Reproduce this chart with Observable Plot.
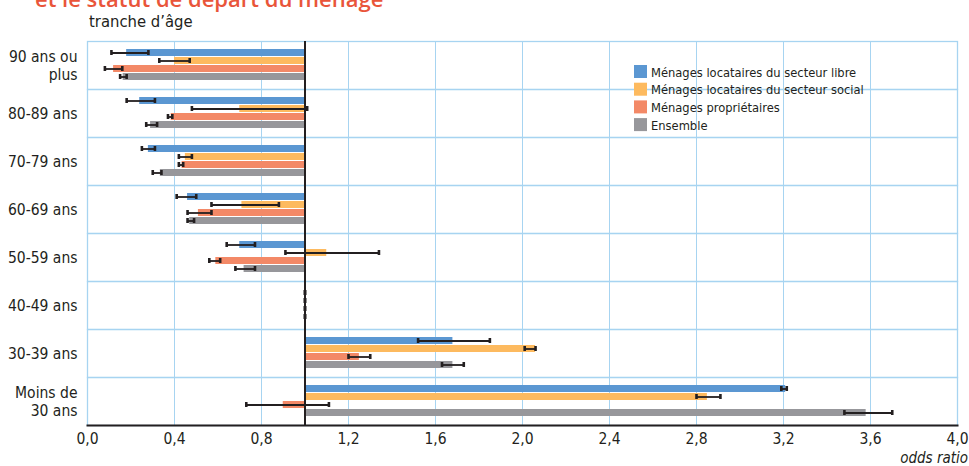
<!DOCTYPE html>
<html>
<head>
<meta charset="utf-8">
<script src="https://cdn.jsdelivr.net/npm/d3@7"></script>
<script src="https://cdn.jsdelivr.net/npm/@observablehq/plot@0.6"></script>
<style>
  html, body { margin: 0; padding: 0; background: #fff; }
  #wrap { position: relative; width: 969px; height: 466px; overflow: hidden; }
  #overlay { position: absolute; left: 0; top: 0; pointer-events: none; }
</style>
</head>
<body>
<div id="wrap"></div>
<script>
const FONT = '"DejaVu Sans Condensed", "DejaVu Sans", sans-serif';

const titleText = "et le statut de départ du ménage";
const yTitle = "tranche d’âge";
const xTitle = "odds ratio";

const ages = ["90 ans ou plus", "80-89 ans", "70-79 ans", "60-69 ans", "50-59 ans", "40-49 ans", "30-39 ans", "Moins de 30 ans"];
const ageLabels = ["90 ans ou\nplus", "80-89 ans", "70-79 ans", "60-69 ans", "50-59 ans", "40-49 ans", "30-39 ans", "Moins de\n30 ans"];

const series = ["Ménages locataires du secteur libre", "Ménages locataires du secteur social", "Ménages propriétaires", "Ensemble"];
const colors = ["#5b97d2", "#fdba5f", "#f38967", "#97979b"];

// odds ratios (bars drawn from the reference value 1)
const libre    = [0.18, 0.24, 0.28, 0.46, 0.70, 1, 1.68, 3.21];
const libreLo  = [0.11, 0.18, 0.25, 0.41, 0.64, 1, 1.52, 3.19];
const libreHi  = [0.28, 0.31, 0.31, 0.50, 0.77, 1, 1.85, 3.215];

const social   = [0.40, 0.70, 0.45, 0.71, 1.10, 1, 2.06, 2.85];
const socialLo = [0.33, 0.48, 0.42, 0.57, 0.91, 1, 2.01, 2.80];
const socialHi = [0.47, 1.01, 0.48, 0.88, 1.34, 1, 2.06, 2.91];

const proprio   = [0.12, 0.385, 0.435, 0.51, 0.59, 1, 1.25, 0.90];
const proprioLo = [0.08, 0.37, 0.42, 0.46, 0.56, 1, 1.20, 0.73];
const proprioHi = [0.16, 0.39, 0.44, 0.57, 0.61, 1, 1.30, 1.11];

const ensemble   = [0.164, 0.29, 0.335, 0.47, 0.72, 1, 1.68, 3.58];
const ensembleLo = [0.15, 0.27, 0.30, 0.46, 0.68, 1, 1.63, 3.48];
const ensembleHi = [0.18, 0.32, 0.34, 0.49, 0.77, 1, 1.73, 3.70];

const xTicks = [0, 0.4, 0.8, 1.2, 1.6, 2.0, 2.4, 2.8, 3.2, 3.6, 4.0];

const values = [libre, social, proprio, ensemble];
const lows = [libreLo, socialLo, proprioLo, ensembleLo];
const highs = [libreHi, socialHi, proprioHi, ensembleHi];

const data = [];
ages.forEach((a, i) => series.forEach((s, j) => {
  data.push({age: a, series: s, value: values[j][i], lo: lows[j][i], hi: highs[j][i]});
}));

const GRID = "#a7d4f1";
const INK = "#231f20";
const fmt = d => d.toFixed(1).replace(".", ",");

const chart = Plot.plot({
  width: 969,
  height: 466,
  marginTop: 37,
  marginBottom: 38,
  marginLeft: 87,
  marginRight: 12,
  style: {fontFamily: FONT, fontSize: "16px", color: INK, background: "white"},
  x: {domain: [0, 4], label: null},
  y: {domain: series, axis: null, paddingInner: 0.08, paddingOuter: 0.8},
  fy: {domain: ages, axis: null, padding: 0},
  color: {domain: series, range: colors},
  marks: [
    Plot.gridX(xTicks, {stroke: GRID, strokeOpacity: 1, strokeWidth: 1}),
    Plot.frame({stroke: GRID, strokeOpacity: 1, strokeWidth: 1.3}),
    Plot.barX(data, {fy: "age", y: "series", x1: 1, x2: "value", fill: "series"}),
    Plot.ruleY(data, {fy: "age", y: "series", x1: "lo", x2: "hi", stroke: INK, strokeWidth: 1.8}),
    Plot.ruleX([1], {stroke: INK, strokeWidth: 2}),
    Plot.tickX(data, {fy: "age", y: "series", x: "lo", stroke: INK, strokeWidth: 2.6, insetTop: 1, insetBottom: 1}),
    Plot.tickX(data, {fy: "age", y: "series", x: "hi", stroke: INK, strokeWidth: 2.6, insetTop: 1, insetBottom: 1}),
    Plot.text(ages, {fy: d => d, text: d => ageLabels[ages.indexOf(d)], frameAnchor: "left", textAnchor: "end", dx: -10, fontSize: 15.5, lineHeight: 1.15, fill: INK}),
    Plot.axisX({ticks: xTicks, tickFormat: fmt, tickSize: 0, tickPadding: 7, fontSize: 15.5, label: null}),
    Plot.frame({anchor: "bottom", stroke: INK, strokeWidth: 2, facet: "super"})
  ]
});

const wrap = document.getElementById("wrap");
wrap.appendChild(chart);

// overlay texts: title (cut at top, as in the source), axis titles, legend
const ov = d3.select(wrap).append("svg")
  .attr("id", "overlay")
  .attr("width", 969).attr("height", 466)
  .style("font-family", FONT);

ov.append("text").attr("x", 35).attr("y", 7)
  .attr("fill", "#e9553a")
  .style("font-family", '"Open Sans", sans-serif')
  .style("font-weight", 600)
  .style("font-size", "22px")
  .text(titleText);

ov.append("text").attr("x", 89).attr("y", 27)
  .attr("fill", INK).style("font-size", "16.5px")
  .text(yTitle);

ov.append("text").attr("x", 968).attr("y", 463)
  .attr("text-anchor", "end")
  .attr("fill", INK).style("font-size", "15px").style("font-style", "italic")
  .text(xTitle);

const lg = ov.append("g").attr("transform", "translate(634,65)");
series.forEach((s, i) => {
  const g = lg.append("g").attr("transform", `translate(0,${i * 17.7})`);
  g.append("rect").attr("width", 13).attr("height", 13).attr("fill", colors[i]);
  g.append("text").attr("x", 17).attr("y", 11.5).attr("fill", INK).style("font-size", "12.8px").text(s);
});
</script>
</body>
</html>
